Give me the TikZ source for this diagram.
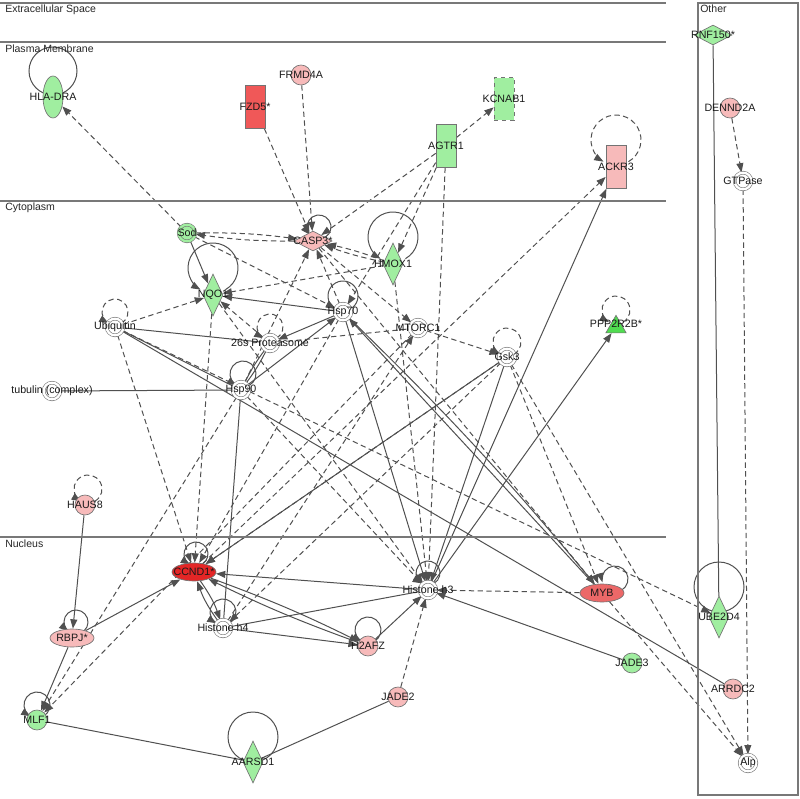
\documentclass[tikz,border=0pt]{standalone}
\usepackage{fontspec}
\setmainfont{Liberation Sans}
\usetikzlibrary{shapes.geometric,arrows.meta,backgrounds}
\definecolor{pinkf}{RGB}{247,186,186}
\definecolor{greenf}{RGB}{160,238,160}
\definecolor{greenS}{RGB}{80,220,80}
\definecolor{redF}{RGB}{240,88,88}
\definecolor{redC}{RGB}{228,38,38}
\definecolor{redM}{RGB}{236,104,104}
\definecolor{edgeC}{RGB}{80,80,80}
\definecolor{bordC}{RGB}{115,115,115}
\definecolor{layC}{RGB}{120,120,120}
\newcommand{\sloopA}[6]{\draw[#6] (#1) ++({#2+#4*cos(#5-30)},{#3+#4*sin(#5-30)}) arc[start angle=#5-30,end angle=#5-330,radius=#4];}
\begin{document}
\begin{tikzpicture}[x=0.75pt,y=-0.75pt,
  lab/.style={font=\fontsize{8}{9}\selectfont, inner sep=0pt, text=black!90},
  layl/.style={font=\fontsize{7.9}{9}\selectfont, inner sep=0pt, anchor=north west, text=black!85},
  shp/.style={draw=bordC, line width=0.5pt, inner sep=0pt},
  gcirc/.style={shp, circle, minimum size=15pt},
  cplx/.style={circle, draw=bordC, fill=white, line width=0.45pt, double=white, double distance=1.7pt, minimum size=12.5pt, inner sep=0pt},
  vell/.style={shp, ellipse, minimum width=15pt, minimum height=31.5pt},
  hell/.style={shp, ellipse, minimum width=33pt, minimum height=13.5pt},
  rectg/.style={shp, rectangle, minimum width=15pt, minimum height=32pt},
  vdia/.style={shp, diamond, minimum width=15pt, minimum height=31.5pt},
  hdia/.style={shp, diamond, minimum width=28.5pt, minimum height=15pt},
  tri/.style={shp, regular polygon, regular polygon sides=3, minimum size=17.5pt},
  ed/.style={draw=edgeC, line width=0.75pt},
  da/.style={ed, dash pattern=on 4pt off 2.6pt},
  ar/.style={-{Triangle[length=7pt,width=5.2pt]}},
  layline/.style={draw=layC, line width=1pt}
]
\useasboundingbox (0,0) rectangle (800,799);
% layers
\draw[layline] (0,3) -- (666,3);
\draw[layline] (0,42) -- (666,42);
\draw[layline] (0,201) -- (666,201);
\draw[layline] (0,537) -- (666,537);
\draw[layline] (698,3) rectangle (798,795);
\node[layl] (L1) at (5,5) {Extracellular Space};
\node[layl] (L2) at (5,45) {Plasma Membrane};
\node[layl] (L3) at (5,203) {Cytoplasm};
\node[layl] (L4) at (5,540) {Nucleus};
\node[layl] (L5) at (700,5) {Other};

% nodes
\node[vell,fill=greenf] (hla) at (53,97) {};
\node[rectg,fill=redF] (fzd) at (255,107) {};
\node[gcirc,fill=pinkf] (frmd) at (301,75) {};
\node[rectg,fill=greenf,dashed] (kcn) at (504,99) {};
\node[rectg,fill=greenf] (agtr) at (446,146) {};
\node[rectg,fill=pinkf] (ackr) at (616,167) {};
\node[hdia,fill=pinkf] (casp) at (313,241) {};
\node[vdia,fill=greenf] (hmox) at (393,264) {};
\node[cplx,fill=greenf,double=greenf] (sod) at (187,233) {};
\node[vdia,fill=greenf] (nqo) at (213,295) {};
\node[cplx] (ubq) at (115,327) {};
\node[cplx] (prot) at (270,343) {};
\node[cplx] (hsp70) at (343,312) {};
\node[cplx] (hsp90) at (241,390) {};
\node[cplx] (tub) at (52,391) {};
\node[cplx] (mtor) at (418,328) {};
\node[cplx] (gsk) at (507,357) {};
\node[tri,fill=greenS] (ppp) at (616,327) {};
\node[gcirc,fill=pinkf] (haus) at (85,505) {};
\node[hell,fill=redC] (ccnd) at (194,572) {};
\node[cplx] (h3) at (428,590) {};
\node[hell,fill=redM] (myb) at (602,593) {};
\node[cplx] (h4) at (223,628) {};
\node[gcirc,fill=pinkf] (h2afz) at (368,646) {};
\node[hell,fill=pinkf] (rbpj) at (72,638) {};
\node[gcirc,fill=greenf] (mlf) at (37,720) {};
\node[vdia,fill=greenf] (aarsd) at (253,762) {};
\node[gcirc,fill=pinkf] (jade2) at (398,697) {};
\node[gcirc,fill=greenf] (jade3) at (632,663) {};
\node[gcirc,fill=pinkf] (arrdc) at (733,689) {};
\node[cplx] (alp) at (748,763) {};
\node[vdia,fill=greenf] (ube) at (719,617) {};
\node[hdia,fill=greenf] (rnf) at (713,35) {};
\node[gcirc,fill=pinkf] (dennd) at (730,108) {};
\node[cplx] (gtp) at (743,181) {};

\begin{pgfonlayer}{background}
% self loops
\draw[ed] (hla) ++(0,-26) circle[radius=24];
\draw[ed] (aarsd) ++(0,-25) circle[radius=25];
\draw[ed] (ube) ++(0,-30) circle[radius=25];
\sloopA{ackr}{0}{-27}{25}{90}{da,ar}
\sloopA{casp}{6}{-14}{12}{110}{ed,ar}
\sloopA{hmox}{0}{-27}{25}{90}{ed,ar}
\sloopA{nqo}{0}{-27}{25}{90}{ed,ar}
\sloopA{ubq}{0}{-15}{13}{90}{da,ar}
\sloopA{prot}{0}{-16}{13}{90}{da,ar}
\sloopA{hsp70}{0}{-16}{15}{90}{ed,ar}
\sloopA{hsp90}{2}{-16}{13}{90}{ed,ar}
\sloopA{gsk}{0}{-15}{14}{90}{da,ar}
\sloopA{ppp}{0}{-17}{14}{90}{da,ar}
\sloopA{haus}{3}{-16}{14}{90}{da,ar}
\sloopA{ccnd}{2}{-18}{12}{90}{ed,ar}
\sloopA{h3}{0}{-17}{12}{90}{ed,ar}
\sloopA{myb}{13}{-14}{13}{135}{ed,ar}
\sloopA{h4}{0}{-16}{13}{90}{ed,ar}
\sloopA{h2afz}{0}{-16}{13}{90}{ed,ar}
\sloopA{rbpj}{4}{-16}{12}{100}{ed,ar}
\sloopA{mlf}{0}{-15}{13}{90}{ed,ar}

% dashed edges
\draw[da,ar] (sod) -- (hla);
\draw[da,ar] (fzd) -- (casp);
\draw[da,ar] (frmd) -- (casp);
\draw[da,ar] (agtr) -- (kcn);
\draw[da,ar] (agtr) -- (casp);
\draw[da,ar] (agtr) -- (hmox);
\draw[da,ar] (agtr) -- (hsp70);
\draw[da,ar] (agtr) -- (h3);
\draw[da,ar] (ccnd) -- (ackr);
\draw[da,ar] (sod) to[bend left=4] (casp);
\draw[da,ar] (casp) to[bend left=4] (sod);
\draw[da,ar] (sod) -- (hsp70);
\draw[da,ar] (hmox) to[bend left=4] (casp);
\draw[da,ar] (hmox) to[bend right=4] (casp);
\draw[da,ar] (hmox) -- (nqo);
\draw[da,ar] (hsp70) -- (casp);
\draw[da,ar] (hsp90) -- (casp);
\draw[da,ar] (casp) -- (mtor);
\draw[da,ar] (casp) -- (myb);
\draw[da,ar] (ubq) -- (nqo);
\draw[da,ar] (prot) -- (nqo);
\draw[da,ar] (nqo) -- (h3);
\draw[da,ar] (nqo) -- (ccnd);
\draw[da,ar] (ubq) -- (ccnd);
\draw[da,ar] (ubq) -- (ube);
\draw[da] (prot) -- (mtor);
\draw[da,ar] (mtor) -- (gsk);
\draw[da,ar] (gsk) -- (myb);
\draw[da,ar] (gsk) -- (alp);
\draw[da,ar] (gsk) -- (ccnd);
\draw[da,ar] (gsk) -- (h4);
\draw[da,ar] (hsp90) -- (h3);
\draw[da,ar] (hsp90) -- (mlf);
\draw[da,ar] (mtor) -- (mlf);
\draw[da,ar] (hmox) -- (h3);
\draw[da,ar] (hsp70) -- (ccnd);
\draw[da,ar] (jade2) -- (h3);
\draw[da,ar] (myb) -- (h3);
\draw[da,ar] (myb) -- (alp);
\draw[da,ar] (dennd) -- (gtp);
\draw[da,ar] (gtp) -- (alp);
\draw[da,ar] (h4) -- (mtor);

% solid edges
\draw[ed,ar] (sod) -- (nqo);
\draw[ed,ar] (hsp70) -- (nqo);
\draw[ed] (ubq) -- (prot);
\draw[ed] (ubq) -- (hsp90);
\draw[ed] (ubq) -- (arrdc);
\draw[ed,ar] (hsp90) -- (hsp70);
\draw[ed,ar] (hsp70) -- (prot);
\draw[ed] (prot) to[bend left=5] (hsp90);
\draw[ed] (prot) to[bend right=5] (hsp90);
\draw[ed,ar] (hsp70) -- (h3);
\draw[ed,ar] (myb) -- (hsp70);
\draw[ed,ar] (hsp70) to[bend left=3] (myb);
\draw[ed,ar] (gsk) -- (ccnd);
\draw[ed,ar] (gsk) -- (h3);
\draw[ed] (tub) -- (hsp90);
\draw[ed] (hsp90) -- (h4);
\draw[ed,ar] (h3) -- (ackr);
\draw[ed,ar] (h3) -- (ppp);
\draw[ed,ar] (haus) -- (rbpj);
\draw[ed,ar] (rbpj) -- (ccnd);
\draw[ed,ar] (rbpj) -- (mlf);
\draw[ed] (mlf) -- (aarsd);
\draw[ed] (aarsd) -- (jade2);
\draw[ed,ar] (h2afz) -- (h3);
\draw[ed,ar] (h2afz) to[bend left=3] (ccnd);
\draw[ed,ar] (ccnd) to[bend left=3] (h2afz);
\draw[ed,ar] (h4) to[bend left=8] (ccnd);
\draw[ed,ar] (ccnd) to[bend left=8] (h4);
\draw[ed,ar] (h3) -- (ccnd);
\draw[ed] (h4) -- (h3);
\draw[ed,ar] (h4) -- (h2afz);
\draw[ed,ar] (jade3) -- (h3);
\draw[ed] (rnf) -- (ube);
\end{pgfonlayer}

% labels
\node[lab] (t-hla) at (hla) {HLA-DRA};
\node[lab] (t-fzd) at (fzd) {FZD5*};
\node[lab] (t-frmd) at (frmd) {FRMD4A};
\node[lab] (t-kcn) at (kcn) {KCNAB1};
\node[lab] (t-agtr) at (agtr) {AGTR1};
\node[lab] (t-ackr) at (ackr) {ACKR3};
\node[lab] (t-casp) at (casp) {CASP3*};
\node[lab] (t-hmox) at (hmox) {HMOX1};
\node[lab] (t-sod) at (sod) {Sod};
\node[lab] (t-nqo) at (nqo) {NQO1};
\node[lab] (t-ubq) at (ubq) {Ubiquitin};
\node[lab] (t-prot) at (prot) {26s Proteasome};
\node[lab] (t-hsp70) at (hsp70) {Hsp70};
\node[lab] (t-hsp90) at (hsp90) {Hsp90};
\node[lab] (t-tub) at (tub) {tubulin (complex)};
\node[lab] (t-mtor) at (mtor) {MTORC1};
\node[lab] (t-gsk) at (gsk) {Gsk3};
\node[lab] (t-ppp) at (616,324) {PPP2R2B*};
\node[lab] (t-haus) at (haus) {HAUS8};
\node[lab] (t-ccnd) at (ccnd) {CCND1*};
\node[lab] (t-h3) at (h3) {Histone h3};
\node[lab] (t-myb) at (myb) {MYB};
\node[lab] (t-h4) at (h4) {Histone h4};
\node[lab] (t-h2afz) at (h2afz) {H2AFZ};
\node[lab] (t-rbpj) at (rbpj) {RBPJ*};
\node[lab] (t-mlf) at (mlf) {MLF1};
\node[lab] (t-aarsd) at (aarsd) {AARSD1};
\node[lab] (t-jade2) at (jade2) {JADE2};
\node[lab] (t-jade3) at (jade3) {JADE3};
\node[lab] (t-arrdc) at (arrdc) {ARRDC2};
\node[lab] (t-alp) at (alp) {Alp};
\node[lab] (t-ube) at (ube) {UBE2D4};
\node[lab] (t-rnf) at (rnf) {RNF150*};
\node[lab] (t-dennd) at (dennd) {DENND2A};
\node[lab] (t-gtp) at (gtp) {GTPase};
\end{tikzpicture}
\end{document}
